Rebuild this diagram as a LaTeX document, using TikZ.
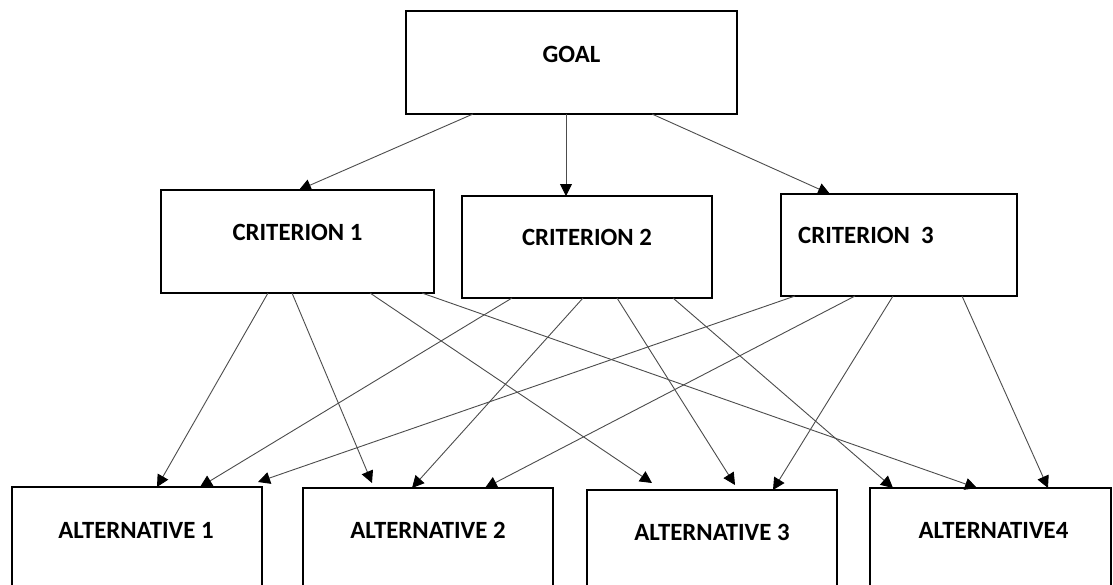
\documentclass[tikz,border=0pt]{standalone}
\usepackage{fontspec}
\setmainfont{Carlito}
\usetikzlibrary{arrows.meta}
\begin{document}
\begin{tikzpicture}[x=1pt,y=-1pt,
  box/.style={draw=black, line width=2.4pt, inner sep=0pt, outer sep=0pt, anchor=north west},
  lbl/.style={inner sep=0pt, font=\fontsize{24.8}{29}\selectfont\bfseries, text=black},
  arr/.style={draw=black!70, line width=0.9pt, -{Triangle[length=12pt,width=12pt,color=black]}}]
\useasboundingbox (0,0) rectangle (1113,584);
\fill[white] (0,0) rectangle (1113,584);
\clip (0,0) rectangle (1113,584);
% boxes
\node[box, minimum width=331pt, minimum height=103pt] (goal) at (406,11) {};
\node[box, minimum width=273pt, minimum height=103pt] (c1) at (161,190) {};
\node[box, minimum width=250pt, minimum height=102pt] (c2) at (462,196) {};
\node[box, minimum width=236pt, minimum height=102pt] (c3) at (781,194) {};
\node[box, minimum width=250pt, minimum height=130pt] (a1) at (12,487) {};
\node[box, minimum width=250pt, minimum height=130pt] (a2) at (303,488) {};
\node[box, minimum width=250pt, minimum height=130pt] (a3) at (587,490) {};
\node[box, minimum width=241pt, minimum height=130pt] (a4) at (870,488) {};
% labels
\node[lbl] (goalt) at ([yshift=-43pt]goal.north) {GOAL};
\node[lbl] (c1t) at ([yshift=-42pt]c1.north) {CRITERION 1};
\node[lbl] (c2t) at ([yshift=-41pt]c2.north) {CRITERION 2};
\node[lbl, anchor=west] (c3t) at ([xshift=17pt,yshift=-41pt]c3.north west) {CRITERION\ \ 3};
\node[lbl] (a1t) at ([xshift=-1pt,yshift=-43pt]a1.north) {ALTERNATIVE 1};
\node[lbl] (a2t) at ([yshift=-42pt]a2.north) {ALTERNATIVE 2};
\node[lbl] (a3t) at ([yshift=-42pt]a3.north) {ALTERNATIVE 3};
\node[lbl] (a4t) at ([xshift=3pt,yshift=-42pt]a4.north) {ALTERNATIVE4};
% goal to criteria
\draw[arr] ([xshift=67pt]goal.south west) -- ([xshift=138pt]c1.north west);
\draw[arr] ([xshift=160pt]goal.south west) -- ([xshift=104pt]c2.north west);
\draw[arr] ([xshift=246pt]goal.south west) -- ([xshift=49pt]c3.north west);
% criterion 1
\draw[arr] ([xshift=107pt]c1.south west) -- ([xshift=145pt]a1.north west);
\draw[arr] ([xshift=131pt]c1.south west) -- ([xshift=69pt,yshift=5pt]a2.north west);
\draw[arr] ([xshift=209pt]c1.south west) -- ([xshift=65pt,yshift=7pt]a3.north west);
\draw[arr] ([xshift=261pt]c1.south west) -- ([xshift=107pt]a4.north west);
% criterion 2
\draw[arr] ([xshift=50pt]c2.south west) -- ([xshift=188pt]a1.north west);
\draw[arr] ([xshift=121pt]c2.south west) -- ([xshift=109pt]a2.north west);
\draw[arr] ([xshift=155pt]c2.south west) -- ([xshift=148pt,yshift=5pt]a3.north west);
\draw[arr] ([xshift=211pt]c2.south west) -- ([xshift=23pt]a4.north west);
% criterion 3
\draw[arr] ([xshift=14pt]c3.south west) -- ([xshift=246pt,yshift=5pt]a1.north west);
\draw[arr] ([xshift=74pt]c3.south west) -- ([xshift=182pt]a2.north west);
\draw[arr] ([xshift=112pt]c3.south west) -- ([xshift=186pt]a3.north west);
\draw[arr] ([xshift=181pt]c3.south west) -- ([xshift=178pt]a4.north west);
\end{tikzpicture}
\end{document}
